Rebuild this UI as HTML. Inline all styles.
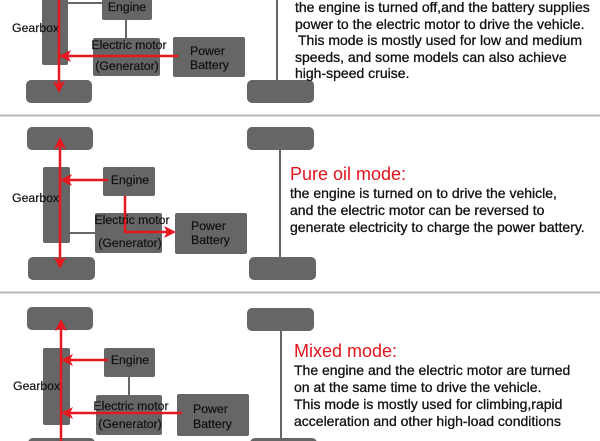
<!DOCTYPE html>
<html><head><meta charset="utf-8"><style>
html,body{margin:0;padding:0;background:#fff;width:600px;height:441px;overflow:hidden}
svg{display:block}
text{font-family:"Liberation Sans",Arial,sans-serif}
.b{fill:#666}
.l{font-size:12.3px;fill:#111;stroke:#111;stroke-width:0.2}
.t{font-size:14px;fill:#111;stroke:#111;stroke-width:0.3}
.h{font-size:18px;fill:#e0141c}
.r{stroke:#e8161e;stroke-width:2.5;fill:none}
.g{stroke:#666;stroke-width:2;fill:none}
</style></head><body>
<svg width="600" height="441" viewBox="0 0 600 441">
<defs>
<marker id="a" markerWidth="12" markerHeight="12" refX="9" refY="6" orient="auto" markerUnits="userSpaceOnUse">
<path d="M0,0 L12,6 L0,12 L3,6 Z" fill="#e8161e"/></marker>
<marker id="s" markerWidth="12" markerHeight="12" refX="3" refY="6" orient="auto" markerUnits="userSpaceOnUse">
<path d="M12,0 L0,6 L12,12 L9,6 Z" fill="#e8161e"/></marker>
</defs>

<rect x="0" y="114.5" width="600" height="2" fill="#b8b8b8"/>
<rect x="0" y="291.5" width="600" height="2" fill="#b8b8b8"/>

<!-- Panel 1 -->
<rect class="b" x="42" y="-5" width="26" height="70" rx="2"/>
<line class="g" x1="68" y1="3" x2="102" y2="3"/>
<rect class="b" x="102" y="-5" width="50" height="25" rx="2"/>
<text class="l" x="127" y="11" text-anchor="middle">Engine</text>
<line class="g" x1="126" y1="20" x2="126" y2="38"/>
<rect class="b" x="93" y="38" width="67" height="38" rx="2"/>
<rect class="b" x="173" y="37" width="72" height="40" rx="2"/>
<rect class="b" x="26" y="80" width="66" height="23" rx="5"/>
<rect class="b" x="247" y="80" width="67" height="23" rx="5"/>
<line class="g" x1="277" y1="0" x2="277" y2="80"/>
<text class="l" x="12" y="32">Gearbox</text>
<line class="r" x1="59" y1="0" x2="59" y2="90" marker-end="url(#a)"/>
<line class="r" x1="178" y1="56" x2="62" y2="56" marker-end="url(#a)"/>
<text class="l" x="129" y="49" text-anchor="middle">Electric motor</text>
<text class="l" x="127" y="70" text-anchor="middle">(Generator)</text>
<text class="l" x="190" y="55">Power</text>
<text class="l" x="190" y="69">Battery</text>
<text class="t" x="295" y="12">the engine is turned off,and the battery supplies</text>
<text class="t" x="295" y="29">power to the electric motor to drive the vehicle.</text>
<text class="t" x="298" y="45">This mode is mostly used for low and medium</text>
<text class="t" x="295" y="62">speeds, and some models can also achieve</text>
<text class="t" x="295" y="78">high-speed cruise.</text>

<!-- Panel 2 -->
<rect class="b" x="27" y="127" width="66" height="23" rx="5"/>
<rect class="b" x="28" y="257" width="67" height="23" rx="5"/>
<rect class="b" x="247" y="127" width="67" height="23" rx="5"/>
<rect class="b" x="249" y="257" width="67" height="23" rx="5"/>
<line class="g" x1="280" y1="150" x2="280" y2="257"/>
<rect class="b" x="43" y="167" width="27" height="76" rx="2"/>
<rect class="b" x="103" y="167" width="52" height="29" rx="2"/>
<rect class="b" x="95" y="213" width="67" height="40" rx="2"/>
<rect class="b" x="175" y="213" width="72" height="41" rx="2"/>
<line class="g" x1="70" y1="233" x2="95" y2="233"/>
<text class="l" x="12" y="202">Gearbox</text>
<text class="l" x="130" y="184" text-anchor="middle">Engine</text>
<line class="r" x1="60" y1="140" x2="60" y2="266" marker-start="url(#s)" marker-end="url(#a)"/>
<line class="r" x1="108" y1="180" x2="63" y2="180" marker-end="url(#a)"/>
<polyline class="r" points="125,196 125,232 173,232" marker-end="url(#a)"/>
<text class="l" x="132" y="224" text-anchor="middle">Electric motor</text>
<text class="l" x="130" y="247" text-anchor="middle">(Generator)</text>
<text class="l" x="191" y="230">Power</text>
<text class="l" x="191" y="244">Battery</text>
<text class="h" x="290" y="180">Pure oil mode:</text>
<text class="t" x="290" y="198">the engine is turned on to drive the vehicle,</text>
<text class="t" x="290" y="215">and the electric motor can be reversed to</text>
<text class="t" x="290" y="232">generate electricity to charge the power battery.</text>

<!-- Panel 3 -->
<rect class="b" x="27" y="307" width="66" height="23" rx="5"/>
<rect class="b" x="28" y="438" width="67" height="23" rx="5"/>
<rect class="b" x="247" y="308" width="67" height="23" rx="5"/>
<rect class="b" x="250" y="438" width="67" height="23" rx="5"/>
<line class="g" x1="281" y1="331" x2="281" y2="441"/>
<rect class="b" x="43" y="348" width="27" height="77" rx="2"/>
<rect class="b" x="104" y="348" width="51" height="29" rx="2"/>
<rect class="b" x="96" y="395" width="66" height="40" rx="2"/>
<rect class="b" x="177" y="394" width="72" height="42" rx="2"/>
<line class="g" x1="129" y1="377" x2="129" y2="395"/>
<text class="l" x="13" y="390">Gearbox</text>
<text class="l" x="130" y="364" text-anchor="middle">Engine</text>
<line class="r" x1="61" y1="322" x2="61" y2="441" marker-start="url(#s)"/>
<line class="r" x1="108" y1="360" x2="64" y2="360" marker-end="url(#a)"/>
<line class="r" x1="182" y1="413" x2="64" y2="413" marker-end="url(#a)"/>
<text class="l" x="131" y="410" text-anchor="middle">Electric motor</text>
<text class="l" x="130" y="428" text-anchor="middle">(Generator)</text>
<text class="l" x="193" y="413">Power</text>
<text class="l" x="193" y="428">Battery</text>
<text class="h" x="294" y="357">Mixed mode:</text>
<text class="t" x="294" y="375">The engine and the electric motor are turned</text>
<text class="t" x="294" y="392">on at the same time to drive the vehicle.</text>
<text class="t" x="294" y="409">This mode is mostly used for climbing,rapid</text>
<text class="t" x="294" y="426">acceleration and other high-load conditions</text>
</svg>
</body></html>
